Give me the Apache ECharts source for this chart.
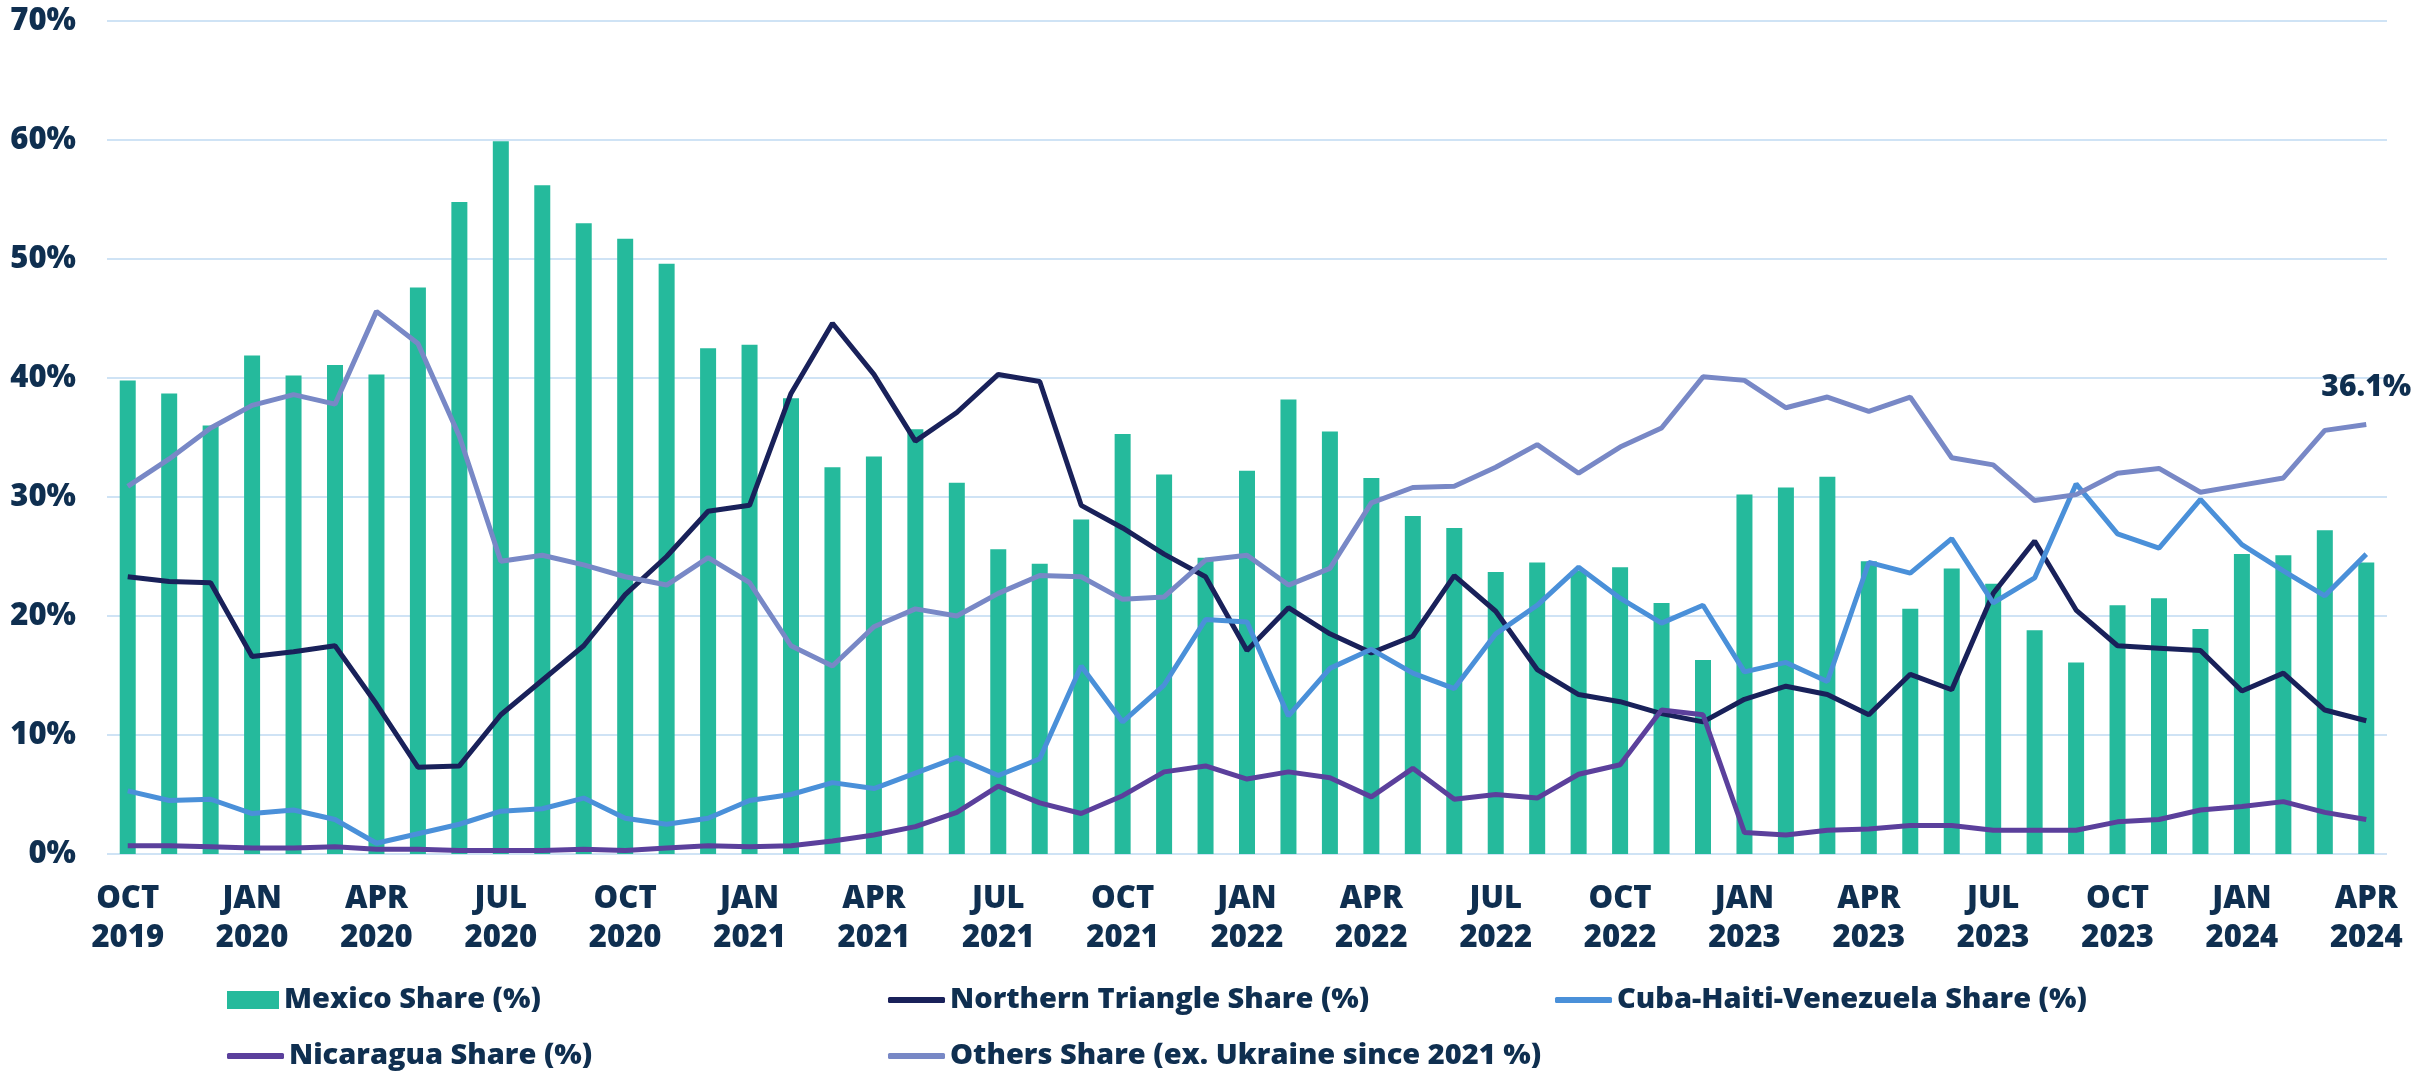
<!DOCTYPE html>
<html>
<head>
<meta charset="utf-8">
<title>Shares by origin</title>
<script src="https://cdn.jsdelivr.net/npm/echarts@6/dist/echarts.min.js"></script>
<style>
  html, body { margin: 0; padding: 0; background: #ffffff; }
  #chart { width: 2436px; height: 1071px; }
</style>
</head>
<body>
<div id="chart"></div>
<script>
// months, Oct 2019 .. Apr 2024
var months = [
  'OCT 2019','NOV 2019','DEC 2019',
  'JAN 2020','FEB 2020','MAR 2020','APR 2020','MAY 2020','JUN 2020','JUL 2020','AUG 2020','SEP 2020','OCT 2020','NOV 2020','DEC 2020',
  'JAN 2021','FEB 2021','MAR 2021','APR 2021','MAY 2021','JUN 2021','JUL 2021','AUG 2021','SEP 2021','OCT 2021','NOV 2021','DEC 2021',
  'JAN 2022','FEB 2022','MAR 2022','APR 2022','MAY 2022','JUN 2022','JUL 2022','AUG 2022','SEP 2022','OCT 2022','NOV 2022','DEC 2022',
  'JAN 2023','FEB 2023','MAR 2023','APR 2023','MAY 2023','JUN 2023','JUL 2023','AUG 2023','SEP 2023','OCT 2023','NOV 2023','DEC 2023',
  'JAN 2024','FEB 2024','MAR 2024','APR 2024'
];

var mexico = [39.8,38.7,36.0,41.9,40.2,41.1,40.3,47.6,54.8,59.9,56.2,53.0,51.7,49.6,42.5,42.8,38.3,
  32.5,33.4,35.7,31.2,25.6,24.4,28.1,35.3,31.9,24.9,32.2,38.2,35.5,31.6,28.4,27.4,23.7,24.5,23.8,
  24.1,21.1,16.3,30.2,30.8,31.7,24.6,20.6,24.0,22.7,18.8,16.1,20.9,21.5,18.9,25.2,25.1,27.2,24.5];

var northernTriangle = [23.3,22.9,22.8,16.6,17.0,17.5,12.6,7.3,7.4,11.7,14.6,17.5,21.8,25.0,28.8,29.3,38.7,
  44.6,40.3,34.7,37.1,40.3,39.7,29.3,27.4,25.2,23.3,17.1,20.7,18.5,16.9,18.3,23.4,20.4,15.5,13.4,
  12.8,11.8,11.1,13.0,14.1,13.4,11.7,15.1,13.8,21.9,26.3,20.5,17.5,17.3,17.1,13.7,15.2,12.1,11.2];

var cubaHaitiVenezuela = [5.3,4.5,4.6,3.4,3.7,2.9,0.9,1.7,2.5,3.6,3.8,4.7,3.0,2.5,3.0,4.5,5.0,
  6.0,5.5,6.8,8.1,6.6,8.0,15.8,11.1,14.2,19.7,19.5,11.6,15.6,17.2,15.2,13.9,18.5,20.9,24.1,
  21.5,19.4,20.9,15.3,16.1,14.5,24.5,23.6,26.5,21.1,23.2,31.1,26.9,25.7,29.8,26.0,23.8,21.7,25.2];

var nicaragua = [0.7,0.7,0.6,0.5,0.5,0.6,0.4,0.4,0.3,0.3,0.3,0.4,0.3,0.5,0.7,0.6,0.7,
  1.1,1.6,2.3,3.5,5.7,4.3,3.4,4.9,6.9,7.4,6.3,6.9,6.4,4.8,7.2,4.6,5.0,4.7,6.7,
  7.5,12.1,11.7,1.8,1.6,2.0,2.1,2.4,2.4,2.0,2.0,2.0,2.7,2.9,3.7,4.0,4.4,3.5,2.9];

var others = [30.9,33.2,35.8,37.7,38.6,37.8,45.6,42.9,35.1,24.6,25.1,24.3,23.3,22.6,24.9,22.8,17.5,
  15.8,19.1,20.6,20.0,21.9,23.4,23.3,21.4,21.6,24.7,25.1,22.6,24.0,29.5,30.8,30.9,32.5,34.4,32.0,
  34.2,35.8,40.1,39.8,37.5,38.4,37.2,38.4,33.3,32.7,29.7,30.2,32.0,32.4,30.4,31.0,31.6,35.6,36.1];

var names = ['Mexico Share (%)', 'Northern Triangle Share (%)', 'Cuba-Haiti-Venezuela Share (%)',
  'Nicaragua Share (%)', 'Others Share (ex. Ukraine since 2021 %)'];

var yTicks = [0, 10, 20, 30, 40, 50, 60, 70];

var colors = ['#25ba9c', '#19215a', '#4a90d9', '#5b409c', '#7888c6'];
var ink = '#0f2f50';
var font = 'Open Sans';
var weight = 800;

// only the last point of "others" carries a label
var othersData = others.map(function (v, i) {
  if (i === others.length - 1) {
    return { value: v, label: { show: true } };
  }
  return v;
});

function legendAt(name, left, top, isBar) {
  return {
    data: [{ name: name, icon: isBar ? 'rect' : 'roundRect' }],
    left: left,
    top: top,
    padding: 0,
    itemWidth: isBar ? 52 : 57,
    itemHeight: isBar ? 18 : 6,
    selectedMode: false,
    textStyle: { color: ink, fontFamily: font, fontWeight: weight, fontSize: 29, lineHeight: 38 }
  };
}

function lineSeries(name, data, color) {
  return {
    name: name,
    type: 'line',
    data: data,
    showSymbol: false,
    symbol: 'none',
    lineStyle: { color: color, width: 5 },
    itemStyle: { color: color }
  };
}

var myChart = echarts.init(document.getElementById('chart'));

var lastOthers = lineSeries(names[4], othersData, colors[4]);
lastOthers.symbol = 'circle';
lastOthers.symbolSize = 0;
lastOthers.showSymbol = true;
lastOthers.label = {
  show: false,
  position: 'top',
  distance: 22,
  color: ink,
  fontFamily: font,
  fontWeight: weight,
  fontSize: 30,
  formatter: function (p) { return p.value.toFixed(1) + '%'; }
};

var option = {
  backgroundColor: '#ffffff',
  animation: false,
  textStyle: { fontFamily: font },
  grid: { left: 107, right: 49, top: 21, bottom: 217 },
  legend: [
    legendAt(names[0], 227, 981, true),
    legendAt(names[1], 888, 981, false),
    legendAt(names[2], 1555, 981, false),
    legendAt(names[3], 227, 1037, false),
    legendAt(names[4], 888, 1037, false)
  ],
  xAxis: {
    type: 'category',
    data: months,
    boundaryGap: true,
    axisLine: { show: false },
    axisTick: { show: false },
    axisLabel: {
      interval: 2,
      margin: 26,
      color: ink,
      fontFamily: font,
      fontWeight: weight,
      fontSize: 31,
      lineHeight: 39,
      formatter: function (v) { return v.replace(' ', '\n'); }
    }
  },
  yAxis: {
    type: 'value',
    min: yTicks[0],
    max: yTicks[yTicks.length - 1],
    interval: 10,
    axisLine: { show: false },
    axisTick: { show: false },
    splitLine: { lineStyle: { color: '#cfe3f5', width: 2 } },
    axisLabel: {
      margin: 31,
      color: ink,
      fontFamily: font,
      fontWeight: weight,
      fontSize: 31,
      formatter: '{value}%'
    }
  },
  series: [
    {
      name: names[0],
      type: 'bar',
      data: mexico,
      barWidth: 16,
      itemStyle: { color: colors[0] }
    },
    lineSeries(names[1], northernTriangle, colors[1]),
    lineSeries(names[2], cubaHaitiVenezuela, colors[2]),
    lineSeries(names[3], nicaragua, colors[3]),
    lastOthers
  ]
};

myChart.setOption(option);
</script>
</body>
</html>
